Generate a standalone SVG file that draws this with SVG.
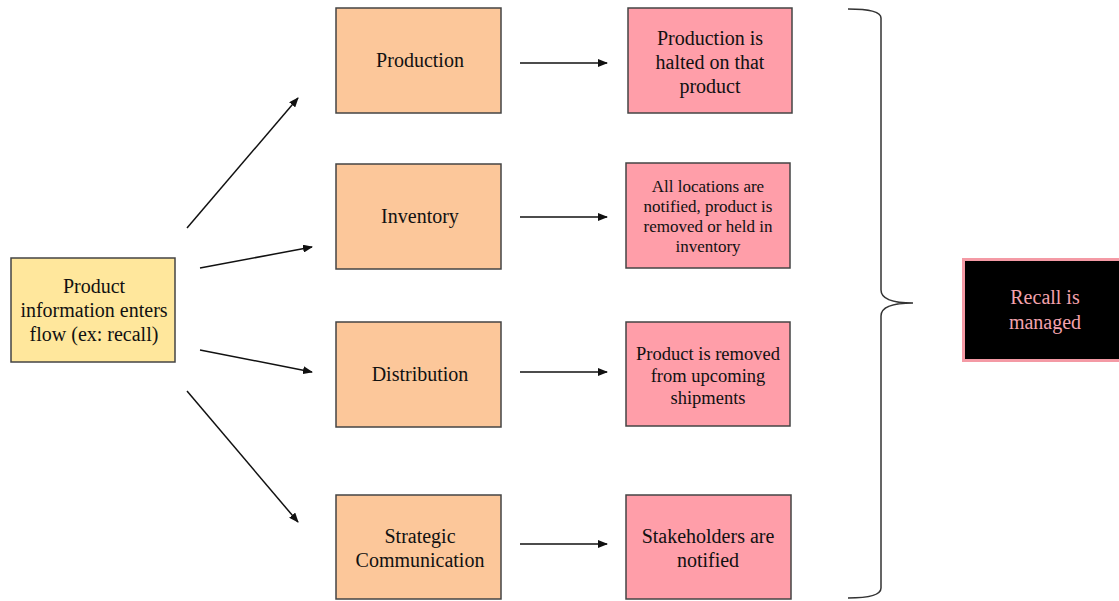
<svg xmlns="http://www.w3.org/2000/svg" width="1119" height="601" viewBox="0 0 1119 601">
<defs>
<marker id="ah" markerWidth="10" markerHeight="8" refX="9" refY="4" orient="auto" markerUnits="userSpaceOnUse">
<path d="M0,0 L10,4 L0,8 z" fill="#111"/>
</marker>
<style>
.box{stroke:#444;stroke-width:1.5}
.y{fill:#FFE79C}
.o{fill:#FCC79A}
.p{fill:#FF9EA9}
.t{font-family:"Liberation Serif","Times New Roman",serif;fill:#111;text-anchor:middle}
.c{stroke:#111;stroke-width:1.5;fill:none;marker-end:url(#ah)}
</style>
</defs>
<rect width="1119" height="601" fill="#fff"/>
<g id="start">
<rect class="box y" x="11" y="258" width="164" height="104"/>
<text class="t" font-size="20"><tspan x="94" y="293">Product</tspan><tspan x="94" y="317">information enters</tspan><tspan x="94" y="341">flow (ex: recall)</tspan></text>
</g>
<g id="production">
<rect class="box o" x="336" y="8" width="165" height="105"/>
<text class="t" font-size="20" x="420" y="67">Production</text>
</g>
<g id="inventory">
<rect class="box o" x="336" y="164" width="165" height="105"/>
<text class="t" font-size="20" x="420" y="223">Inventory</text>
</g>
<g id="distribution">
<rect class="box o" x="336" y="322" width="165" height="105"/>
<text class="t" font-size="20" x="420" y="381">Distribution</text>
</g>
<g id="strategic">
<rect class="box o" x="336" y="495" width="165" height="104"/>
<text class="t" font-size="20"><tspan x="420" y="543">Strategic</tspan><tspan x="420" y="567">Communication</tspan></text>
</g>
<g id="halted">
<rect class="box p" x="628" y="8" width="164" height="105"/>
<text class="t" font-size="20"><tspan x="710" y="45">Production is</tspan><tspan x="710" y="69">halted on that</tspan><tspan x="710" y="93">product</tspan></text>
</g>
<g id="notified-locations">
<rect class="box p" x="626" y="163" width="164" height="105"/>
<text class="t" font-size="17"><tspan x="708" y="192">All locations are</tspan><tspan x="708" y="212">notified, product is</tspan><tspan x="708" y="232">removed or held in</tspan><tspan x="708" y="252">inventory</tspan></text>
</g>
<g id="removed">
<rect class="box p" x="626" y="322" width="164" height="104"/>
<text class="t" font-size="18.5"><tspan x="708" y="360">Product is removed</tspan><tspan x="708" y="382">from upcoming</tspan><tspan x="708" y="404">shipments</tspan></text>
</g>
<g id="stakeholders">
<rect class="box p" x="626" y="495" width="165" height="104"/>
<text class="t" font-size="20"><tspan x="708" y="543">Stakeholders are</tspan><tspan x="708" y="567">notified</tspan></text>
</g>
<g id="recall">
<rect x="963.5" y="259.5" width="160" height="101" fill="#000" stroke="#F49AA5" stroke-width="3"/>
<text class="t" font-size="20" style="fill:#F4A3AE"><tspan x="1045" y="304">Recall is</tspan><tspan x="1045" y="329">managed</tspan></text>
</g>
<g id="connectors">
<line class="c" x1="187" y1="228" x2="298" y2="98"/>
<line class="c" x1="200" y1="268" x2="312" y2="247"/>
<line class="c" x1="200" y1="350" x2="312" y2="372"/>
<line class="c" x1="187" y1="391" x2="298" y2="522"/>
<line class="c" x1="520" y1="63" x2="607" y2="63"/>
<line class="c" x1="520" y1="217" x2="607" y2="217"/>
<line class="c" x1="520" y1="372" x2="607" y2="372"/>
<line class="c" x1="520" y1="544" x2="607" y2="544"/>
<path d="M848,9 Q881,9 881,18 L881,290 Q881,303 913,303 Q881,303 881,316 L881,588 Q881,598 848,598" fill="none" stroke="#333" stroke-width="1.5"/>
</g>
</svg>
